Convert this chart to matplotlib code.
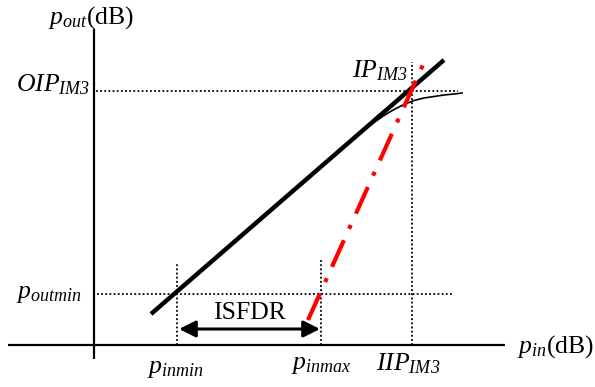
import matplotlib
matplotlib.use("Agg")
import matplotlib.pyplot as plt
from matplotlib.patches import FancyArrowPatch

plt.rcParams["font.family"] = ["Liberation Serif", "DejaVu Serif"]
plt.rcParams["mathtext.fontset"] = "custom"
# all math labels are italic in the figure, digits too
plt.rcParams["mathtext.it"] = "Liberation Serif:italic"
plt.rcParams["mathtext.rm"] = "Liberation Serif:italic"
plt.rcParams["mathtext.bf"] = "Liberation Serif:bold"
plt.rcParams["mathtext.default"] = "it"

# levels (arbitrary dB units)
pinmin = 8.3
pinmax = 22.7
iip3 = 31.75
poutmin = 5.1
oip3 = 25.4

# fundamental (linear) response
pin_lin = [5.7, 35.0]
pout_lin = [3.1, 28.5]

# compressed fundamental
pin_comp = [26.0, 27.0, 28.0, 29.0, 30.0, 31.0, 32.0, 33.0, 34.0, 35.0, 36.0, 36.8]
pout_comp = [20.7, 21.5, 22.25, 22.95, 23.55, 24.05, 24.45, 24.7, 24.85, 25.0, 25.1, 25.2]

# third order intermod
pin_im3 = [21.4, 33.2]
pout_im3 = [2.5, 28.7]

fig = plt.figure(figsize=(5.95, 3.87), dpi=100)
ax = fig.add_axes([0, 0, 1, 1])
ax.set_xlim(-9.4, 50.1)
ax.set_ylim(-4.2, 34.5)
ax.axis("off")

# axes
ax.plot([-8.6, 41.1], [0, 0], color="black", lw=1.6, solid_capstyle="butt")
ax.plot([0, 0], [-1.4, 31.6], color="black", lw=1.6, solid_capstyle="butt")

dot = dict(color="black", lw=1.3, linestyle=(0, (1.0, 1.3)))
ax.plot([0.2, 36.4], [oip3, oip3], **dot)
ax.plot([0.3, 35.9], [poutmin, poutmin], **dot)
ax.plot([iip3, iip3], [0, 28.3], **dot)
ax.plot([pinmin, pinmin], [0, 8.3], **dot)
ax.plot([pinmax, pinmax], [0, 8.5], **dot)

ax.plot(pin_comp, pout_comp, color="black", lw=1.2)
ax.plot(pin_lin, pout_lin, color="black", lw=3.2, solid_capstyle="butt")
ax.plot(pin_im3, pout_im3, color="red", lw=3, linestyle=(0, (7, 3, 1, 3)),
        dash_capstyle="butt")

arr = FancyArrowPatch((pinmin + 0.2, 1.6), (pinmax - 0.1, 1.6),
                      arrowstyle="<|-|>,head_length=10,head_width=5",
                      mutation_scale=1, lw=2.2, color="black",
                      shrinkA=0, shrinkB=0)
ax.add_patch(arr)

fs = 18.5
ax.text(15.5, 2.6, "ISFDR", fontsize=fs, ha="center", va="baseline")

ax.text(-4.6, 32.1, r"$p_{out}$" + "(dB)", fontsize=fs, ha="left", va="baseline")
ax.text(42.3, -0.8, r"$p_{in}$" + "(dB)", fontsize=fs, ha="left", va="baseline")
ax.text(-0.4, oip3, r"$OIP_{IM3}$", fontsize=fs, ha="right", va="baseline")
ax.text(-1.2, poutmin - 0.4, r"$p_{outmin}$", fontsize=fs, ha="right", va="baseline")
ax.text(25.8, 26.8, r"$IP_{IM3}$", fontsize=fs, ha="left", va="baseline")
ax.text(pinmin - 0.2, -2.8, r"$p_{inmin}$", fontsize=fs, ha="center", va="baseline")
ax.text(pinmax + 0.0, -2.4, r"$p_{inmax}$", fontsize=fs, ha="center", va="baseline")
ax.text(31.4, -2.5, r"$IIP_{IM3}$", fontsize=fs, ha="center", va="baseline")

fig.savefig("out.png", dpi=100)
